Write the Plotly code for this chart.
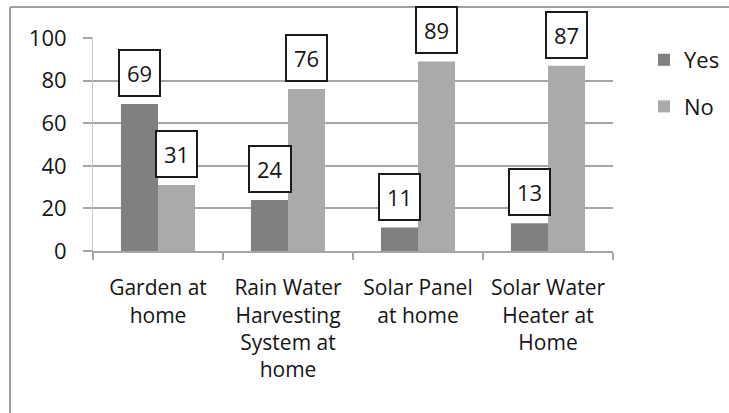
import plotly.graph_objects as go

categories = ["Garden at<br>home", "Rain Water<br>Harvesting<br>System at<br>home",
              "Solar Panel<br>at home", "Solar Water<br>Heater at<br>Home"]
yes_values = [69, 24, 11, 13]
no_values = [31, 76, 89, 87]
y_ticks = [0, 20, 40, 60, 80, 100]

W, H = 729, 413
L, R, T, B = 93, 116, 38, 162
pw, ph = W - L - R, H - T - B

FONT = "Open Sans"
TXT = "#151515"
GRID = "#a6a6a6"

fig = go.Figure()
fig.add_trace(go.Bar(x=categories, y=yes_values, name="Yes", legendgroup="yes",
                     marker=dict(color="#808083", line=dict(width=0))))
fig.add_trace(go.Bar(x=categories, y=no_values, name="No", legendgroup="no",
                     marker=dict(color="#aaaaac", line=dict(width=0))))

annotations = []
for series, shift in ((yes_values, -18.5), (no_values, 18.5)):
    for cat, v in zip(categories, series):
        annotations.append(dict(
            x=cat, y=v, xref="x", yref="y", text=str(v), showarrow=False,
            xshift=shift, yshift=7, yanchor="bottom", xanchor="center",
            font=dict(family=FONT, size=22, color=TXT),
            bgcolor="white", bordercolor="#1a1a1a", borderwidth=2, borderpad=7,
        ))

def px_x(p):
    return (p - L) / pw

def px_y(p):
    return (H - B - p) / ph

border = dict(color="#a0a0a0", width=2)
fig.add_shape(type="line", xref="paper", yref="paper",
              x0=px_x(10), x1=px_x(10), y0=px_y(H + 20), y1=px_y(7),
              line=border, layer="below")
fig.add_shape(type="line", xref="paper", yref="paper",
              x0=px_x(10), x1=px_x(W + 20), y0=px_y(7), y1=px_y(7),
              line=border, layer="below")

fig.update_layout(
    width=W, height=H,
    margin=dict(l=L, r=R, t=T, b=B, autoexpand=False),
    paper_bgcolor="white", plot_bgcolor="white",
    barmode="group", bargap=0.43, bargroupgap=0,
    font=dict(family=FONT, size=21, color=TXT),
    annotations=annotations,
    showlegend=True,
    legend=dict(x=px_x(644), y=px_y(39), xanchor="left", yanchor="top",
                font=dict(family=FONT, size=22, color=TXT),
                tracegroupgap=15, traceorder="grouped",
                bgcolor="rgba(0,0,0,0)"),
    xaxis=dict(type="category", tickson="boundaries", ticks="outside",
               ticklen=7, tickwidth=2, tickcolor=GRID, tickangle=0,
               automargin=False,
               showline=True, linecolor=GRID, linewidth=2,
               showgrid=False, tickfont=dict(family=FONT, size=21, color=TXT),
               ticklabelstandoff=17, fixedrange=True),
    yaxis=dict(range=[0, 100], tickvals=y_ticks, ticks="outside", ticklen=9,
               tickwidth=2, tickcolor=GRID, showgrid=True, gridcolor=GRID,
               gridwidth=2, showline=True, linecolor="#c8c8c8", linewidth=1,
               zeroline=False, automargin=False,
               tickfont=dict(family=FONT, size=22, color=TXT),
               ticklabelstandoff=12, fixedrange=True),
)

fig.write_html("out.html")
